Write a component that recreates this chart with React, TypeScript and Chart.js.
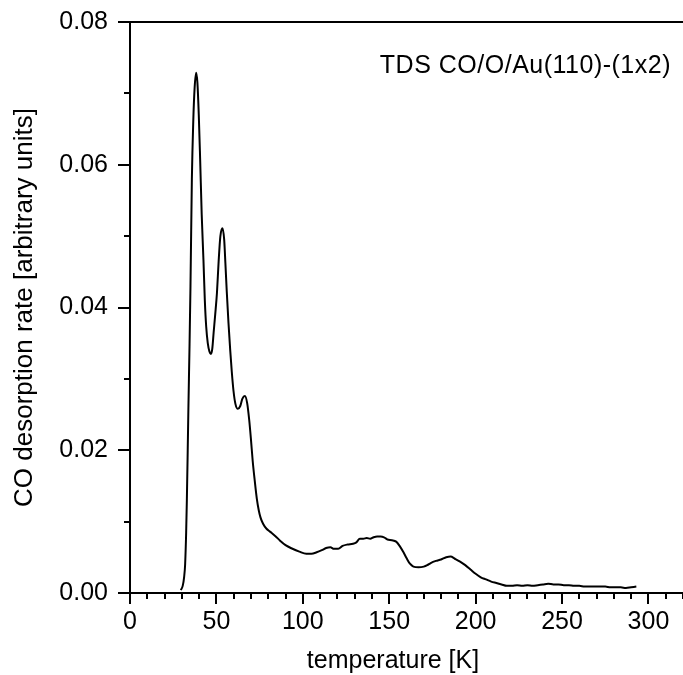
import React, { useEffect, useRef } from 'react';
import { Chart, registerables } from 'chart.js';

Chart.register(...registerables);

// temperature [K]
const temperatureK = [
  29.4, 30.5, 31.3, 31.9, 32.5, 32.9, 33.4, 33.8, 34.4, 35.0, 35.8, 36.6, 37.4, 38.3,
  39.0, 39.8, 40.6, 41.5, 42.5, 43.3, 44.1, 45.0, 46.0, 46.8, 47.6, 48.4, 49.3, 50.3,
  51.3, 52.3, 53.5, 54.5, 55.2, 56.0, 57.0, 58.0, 58.9, 59.9, 61.0, 62.4, 63.8, 65.0,
  66.5, 67.8, 69.0, 70.0, 71.0, 72.2, 73.4, 74.5, 75.5, 77.0, 79.0, 81.0, 84.0, 87.0,
  90.0, 94.0, 98.0, 102.0, 105.0, 108.0, 111.0, 113.5, 116.0, 118.0, 120.5, 123.0, 126.0,
  129.0, 131.0, 133.0, 135.0, 137.0, 139.0, 141.0, 143.0, 145.0, 147.0, 149.0, 151.5,
  154.0, 156.0, 158.0, 160.0, 162.0, 164.0, 167.0, 170.0, 172.0, 174.0, 177.0, 180.0,
  183.0, 185.5, 188.0, 191.0, 194.0, 197.0, 200.0, 203.0, 206.0, 209.0, 212.0, 215.0,
  218.0, 221.0, 224.0, 227.0, 230.0, 233.0, 236.0, 239.0, 242.0, 245.0, 248.0, 251.0,
  254.0, 257.0, 260.0, 263.0, 266.0, 269.0, 272.0, 275.0, 278.0, 281.0, 284.0, 287.0,
  290.0, 293.0,
];

// CO desorption rate [arbitrary units]
const desorptionRate = [
  0.0004, 0.0010, 0.0022, 0.0040, 0.0085, 0.0130, 0.0200, 0.0260, 0.0340, 0.0430, 0.0580, 0.0660, 0.0708, 0.0729,
  0.0715, 0.0670, 0.0607, 0.0530, 0.0467, 0.0410, 0.0373, 0.0350, 0.0338, 0.0335, 0.0342, 0.0365, 0.0390, 0.0420,
  0.0465, 0.0500, 0.0511, 0.0495, 0.0462, 0.0422, 0.0378, 0.0340, 0.0310, 0.0283, 0.0265, 0.0258, 0.0262, 0.0272,
  0.0276, 0.0266, 0.0242, 0.0215, 0.0185, 0.0157, 0.0132, 0.0116, 0.0106, 0.0097, 0.0090, 0.0086, 0.0080, 0.0073,
  0.0067, 0.0062, 0.0058, 0.0055, 0.0055, 0.0057, 0.0060, 0.0063, 0.0064, 0.0062, 0.0062, 0.0066, 0.0068,
  0.0069, 0.0071, 0.0076, 0.0076, 0.0077, 0.0076, 0.0078, 0.0079, 0.0079, 0.0078, 0.0075, 0.0074,
  0.0072, 0.0066, 0.0058, 0.0049, 0.0041, 0.0037, 0.0036, 0.0037, 0.0039, 0.0042, 0.0045, 0.0047,
  0.0050, 0.0051, 0.0048, 0.0044, 0.0039, 0.0033, 0.0027, 0.0022, 0.0019, 0.0016, 0.0014, 0.0012,
  0.0010, 0.0010, 0.0011, 0.0010, 0.0011, 0.0010, 0.0011, 0.0012, 0.0013, 0.0012, 0.0012, 0.0011,
  0.0011, 0.0010, 0.0010, 0.0009, 0.0009, 0.0009, 0.0009, 0.0009, 0.0008, 0.0008, 0.0008, 0.0007,
  0.0008, 0.0009,
];

const xMajorTicks = [0, 50, 100, 150, 200, 250, 300];
const yMajorTicks = [0, 0.02, 0.04, 0.06, 0.08];
const xMinorStep = 10;
const yMinorStep = 0.01;

const annotationText = 'TDS CO/O/Au(110)-(1x2)';
const xTitle = 'temperature [K]';
const yTitle = 'CO desorption rate [arbitrary units]';

const FONT = "'Liberation Sans', Arial, Helvetica, sans-serif";
const FONT_SIZE = 25;

const axisDecor = {
  id: 'axisDecor',
  afterDraw(chart: any) {
    const { ctx, chartArea, scales } = chart;
    const x = scales.x;
    const y = scales.y;
    ctx.save();
    ctx.strokeStyle = '#000';
    ctx.lineWidth = 2;
    ctx.beginPath();
    // x ticks (outside, downward)
    for (let v = x.min; v <= x.max + 1e-9; v += xMinorStep) {
      const px = Math.round(x.getPixelForValue(v));
      const major = xMajorTicks.some((t) => Math.abs(t - v) < 1e-6);
      ctx.moveTo(px, chartArea.bottom);
      ctx.lineTo(px, chartArea.bottom + (major ? 11 : 6));
    }
    // y ticks (outside, leftward)
    for (let v = y.min; v <= y.max + 1e-9; v += yMinorStep) {
      const py = Math.round(y.getPixelForValue(v));
      const major = yMajorTicks.some((t) => Math.abs(t - v) < 1e-6);
      ctx.moveTo(chartArea.left, py);
      ctx.lineTo(chartArea.left - (major ? 12 : 6), py);
    }
    // top frame line
    const top = Math.round(chartArea.top);
    ctx.moveTo(chartArea.left, top);
    ctx.lineTo(chartArea.right, top);
    ctx.stroke();

    ctx.fillStyle = '#000';
    // x axis title
    ctx.font = `${FONT_SIZE}px ${FONT}`;
    ctx.textAlign = 'center';
    ctx.textBaseline = 'middle';
    ctx.fillText(xTitle, 393, 661);

    // annotation
    ctx.font = `${FONT_SIZE}px ${FONT}`;
    try { (ctx as any).letterSpacing = '0.5px'; } catch (e) {}
    ctx.textAlign = 'right';
    ctx.textBaseline = 'alphabetic';
    ctx.fillText(annotationText, 671, 73);
    try { (ctx as any).letterSpacing = '0px'; } catch (e) {}
    ctx.restore();
  },
};

export default function App() {
  const canvasRef = useRef<HTMLCanvasElement | null>(null);

  useEffect(() => {
    document.body.style.margin = '0';
    const canvas = canvasRef.current;
    if (!canvas) return;
    const points = temperatureK.map((t, i) => ({ x: t, y: desorptionRate[i] }));
    const chart = new Chart(canvas, {
      type: 'line',
      data: {
        datasets: [
          {
            data: points,
            borderColor: '#000',
            borderWidth: 2,
            pointRadius: 0,
            fill: false,
            cubicInterpolationMode: 'monotone',
          },
        ],
      },
      options: {
        animation: false,
        responsive: false,
        devicePixelRatio: 1,
        layout: { padding: { top: 22, right: 0, bottom: 0, left: 0 } },
        plugins: { legend: { display: false }, tooltip: { enabled: false } },
        scales: {
          x: {
            type: 'linear',
            min: 0,
            max: 320,
            afterBuildTicks: (scale: any) => {
              scale.ticks = xMajorTicks.map((v) => ({ value: v }));
            },
            afterFit: (scale: any) => {
              scale.height = 82;
              scale.paddingLeft = 0;
              scale.paddingRight = 0;
            },
            grid: { display: true, drawOnChartArea: false, drawTicks: false },
            border: { display: true, color: '#000', width: 2 },
            ticks: {
              color: '#000',
              font: { family: FONT, size: FONT_SIZE },
              padding: 14,
              maxRotation: 0,
              autoSkip: false,
              callback: (v: any) => String(v),
            },
            title: { display: false, text: xTitle },
          },
          y: {
            type: 'linear',
            min: 0,
            max: 0.08,
            afterBuildTicks: (scale: any) => {
              scale.ticks = yMajorTicks.map((v) => ({ value: v }));
            },
            afterFit: (scale: any) => {
              scale.width = 130;
              scale.paddingTop = 0;
              scale.paddingBottom = 0;
            },
            grid: { display: true, drawOnChartArea: false, drawTicks: false },
            border: { display: true, color: '#000', width: 2 },
            ticks: {
              color: '#000',
              font: { family: FONT, size: FONT_SIZE },
              padding: 22,
              autoSkip: false,
              callback: (v: any) => Number(v).toFixed(2),
            },
            title: {
              display: true,
              text: yTitle,
              color: '#000',
              font: { family: FONT, size: 26 },
              padding: { top: 9, bottom: 0 },
            },
          },
        },
      },
      plugins: [axisDecor],
    });
    return () => chart.destroy();
  }, []);

  return (
    <div style={{ width: 683, height: 675 }}>
      <canvas ref={canvasRef} width={683} height={675} style={{ display: 'block' }} />
    </div>
  );
}
